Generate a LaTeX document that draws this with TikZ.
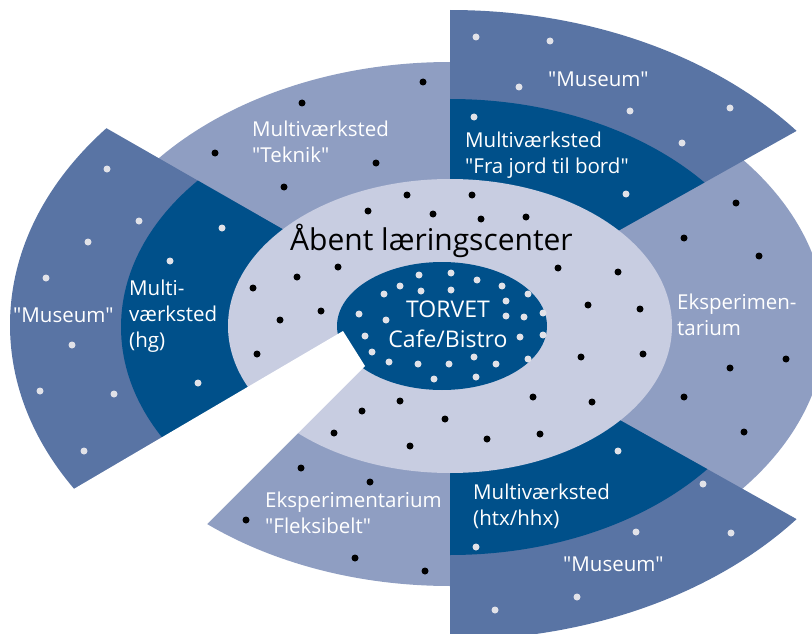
\documentclass[tikz,border=0pt]{standalone}
\usepackage{fontspec}
\setmainfont{Open Sans}
\definecolor{outerblue}{RGB}{143,158,194}
\definecolor{museumblue}{RGB}{89,116,164}
\definecolor{darkblue}{RGB}{0,80,138}
\definecolor{paleblue}{RGB}{200,205,225}
\definecolor{dotgrey}{RGB}{225,226,232}
\newcommand{\quoted}[1]{\textquotedbl#1\textquotedbl}
\tikzset{
  bdot/.style={fill=black},
  wdot/.style={fill=dotgrey},
  lbl/.style={text=white, font=\fontsize{20.5}{26}\selectfont, align=left, anchor=base west, inner sep=0pt},
}

\begin{document}
\begin{tikzpicture}[x=1pt,y=-1pt]
\useasboundingbox (0,0) rectangle (812,634);
% outer ring
\fill[outerblue] (450,324) ellipse [x radius=376, y radius=262];
% sectors: museum + multivaerksted
\begin{scope}
  \clip (450,325) -- (450,-50) -- (900,-50) -- (900,73) -- cycle;
  \fill[museumblue] (450,325) ellipse [x radius=440, y radius=315];
  \fill[darkblue] (450,327) ellipse [x radius=329, y radius=228];
\end{scope}
\begin{scope}
  \clip (450,325) -- (450,700) -- (900,700) -- (900,577) -- cycle;
  \fill[museumblue] (450,325) ellipse [x radius=440, y radius=315];
  \fill[darkblue] (450,327) ellipse [x radius=329, y radius=228];
\end{scope}
\begin{scope}
  \clip (450,325) -- (-100,10) -- (-100,765) -- (365,366) -- cycle;
  \fill[museumblue] (450,325) ellipse [x radius=440, y radius=315];
  \fill[darkblue] (450,327) ellipse [x radius=329, y radius=228];
\end{scope}
% laeringscenter and torvet
\fill[paleblue] (450,326) ellipse [x radius=222, y radius=147];
\fill[darkblue] (442,326) ellipse [x radius=105, y radius=64];
% gap
\fill[white] (343,331) -- (365,366) -- (31,700) -- (-100,700) -- (-100,591) -- cycle;

% dots
\foreach \p in {(423,82),(302,103),(215,153),(376,163),(284,187),(407,195),(472,195),
  (368,211),(433,214),(481,219),(526,217),(338,267),(297,277),(253,288),(321,311),
  (280,320),(257,354),(558,268),(618,272),(588,305),(640,309),(581,357),(643,354),
  (400,401),(362,411),(533,397),(592,402),(445,419),(334,433),(410,446),(487,439),
  (540,434),(736,203),(684,238),(759,256),(786,359),(730,368),(684,397),(744,432),
  (301,468),(370,482),(246,520),(355,558),(425,571)}
  \fill[bdot] \p circle [radius=3.5];
\foreach \p in {(107,169),(139,221),(88,242),(46,278),(72,345),(40,391),(114,394),(84,451),
  (222,228),(170,261),(198,383),
  (476,37),(550,41),(519,87),(630,111),(730,108),(474,117),(682,143),(626,194),
  (618,451),(703,484),(636,532),(731,533),(476,547),(577,597),(495,610),
  (419,275),(451,273),(477,280),(502,286),(400,286),(421,291),(451,290),(384,294),
  (528,294),(506,301),(359,314),(386,320),(506,316),(524,317),(543,313),(365,336),
  (520,337),(543,335),(372,352),(389,362),(418,364),(449,364),(474,357),(496,364),
  (528,359),(434,379),(476,377)}
  \fill[wdot] \p circle [radius=3.5];

% labels (base = last line)
\node[anchor=base west, inner sep=0pt, font=\fontsize{30}{34}\selectfont] (laering) at (290,250) {Åbent læringscenter};
\node[lbl, align=center, anchor=base, font=\fontsize{23}{30}\selectfont] (torvet) at (448,347) {TORVET\\Cafe/Bistro};
\node[lbl] (teknik) at (252,162) {Multiværksted\\\quoted{Teknik}};
\node[lbl] (fraJord) at (465,173) {Multiværksted\\\quoted{Fra jord til bord}};
\node[lbl] (museumTop) at (548,87) {\quoted{Museum}};
\node[lbl] (museumLeft) at (13,322) {\quoted{Museum}};
\node[lbl] (hg) at (129,347) {Multi-\\værksted\\(hg)};
\node[lbl] (eksp) at (677,335) {Eksperimen-\\tarium};
\node[lbl] (fleks) at (265,533) {Eksperimentarium\\\quoted{Fleksibelt}};
\node[lbl] (htx) at (473,525) {Multiværksted\\(htx/hhx)};
\node[lbl] (museumBottom) at (563,571) {\quoted{Museum}};
\end{tikzpicture}
\end{document}
